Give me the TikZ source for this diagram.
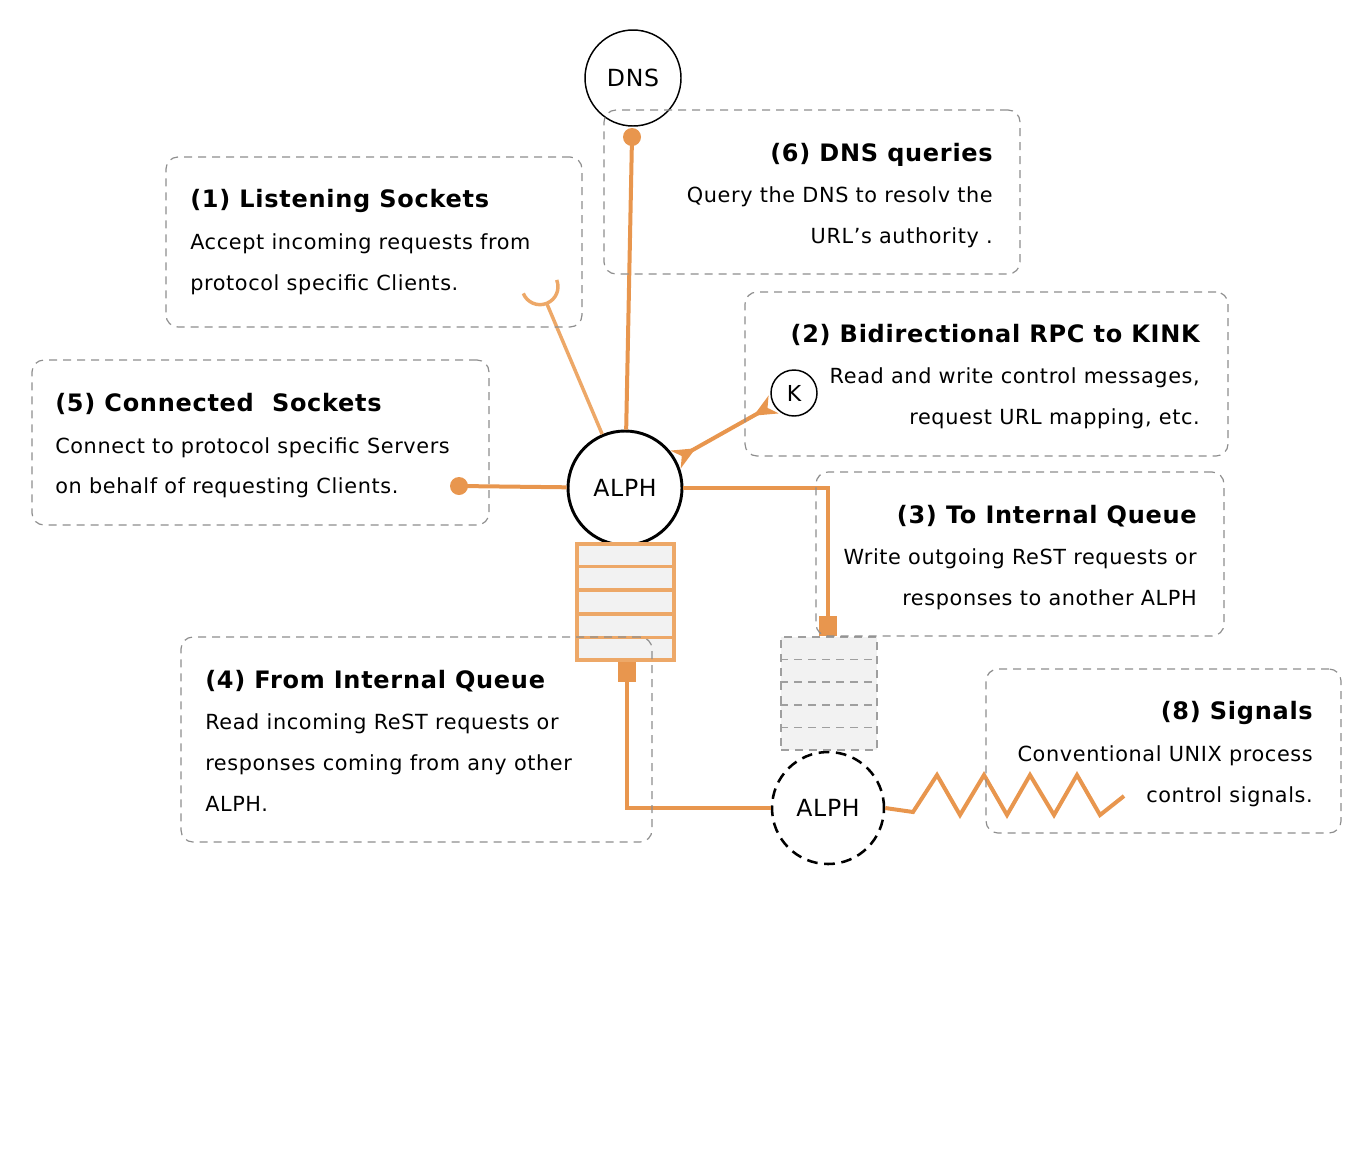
\documentclass[tikz,border=0pt]{standalone}
\usepackage{fontspec}
\setmainfont[LetterSpace=3]{DejaVu Sans}
\usetikzlibrary{arrows.meta,calc}
\definecolor{org}{HTML}{E8964E}
\definecolor{orgl}{HTML}{EDA868}
\definecolor{qfill}{HTML}{F2F2F2}
\definecolor{boxgray}{HTML}{8E8E8E}
\begin{document}
\begin{tikzpicture}[x=0.75pt,y=-0.75pt,
  infobox/.style={draw=boxgray, line width=0.9pt, dash pattern=on 6pt off 4.5pt, rounded corners=9pt, inner sep=0pt, fill=none},
  body/.style={font=\fontsize{15.6pt}{19pt}\selectfont, inner sep=0pt, text=black},
  ttl/.style={font=\fontsize{18pt}{21pt}\selectfont\bfseries, inner sep=0pt, text=black},
  lbl/.style={font=\fontsize{17.7pt}{20pt}\selectfont, text=black},
  conn/.style={draw=org, line width=3pt},
  lconn/.style={draw=orgl, line width=2.6pt},
  tipS/.tip={Stealth[reversed,length=17pt,width=15pt,inset=5pt]},
  sqr/.style={rectangle, fill=org, minimum width=13.5pt, minimum height=15pt, inner sep=0pt}
]
\useasboundingbox (0,0) rectangle (1369,1165);

% circles
\node[circle, draw=black, line width=1.1pt, minimum size=72pt, inner sep=0pt, lbl] (dns) at (633,78) {DNS};
\node[circle, draw=black, line width=2.2pt, minimum size=85.5pt, inner sep=0pt, lbl] (alph) at (625,488) {ALPH};
\node[circle, draw=black, line width=1.1pt, minimum size=34.5pt, inner sep=0pt, lbl, font=\fontsize{16.5pt}{18pt}\selectfont] (k) at (794,393) {K};
\node[circle, draw=black, line width=1.9pt, dash pattern=on 8pt off 5pt, minimum size=84pt, inner sep=0pt, lbl] (alph2) at (828,808) {ALPH};

% queue 1 (orange)
\node[rectangle, fill=qfill, draw=orgl, line width=2.4pt, minimum width=72.75pt, minimum height=87pt, inner sep=0pt] (q1) at (625.5,602) {};
\foreach \i in {1,...,4}
  \draw[orgl, line width=2.4pt] ($(q1.north west)!\i/5!(q1.south west)$) -- ($(q1.north east)!\i/5!(q1.south east)$);
\node[sqr, anchor=north] (sq1) at ($(q1.south)+(1.5,0)$) {};

% queue 2 (dashed gray)
\node[rectangle, fill=qfill, draw=gray!75, line width=0.9pt, dash pattern=on 6pt off 4.5pt, minimum width=72pt, minimum height=84.75pt, inner sep=0pt] (q2) at (829,693.5) {};
\foreach \i in {1,...,4}
  \draw[gray!75, line width=0.9pt, dash pattern=on 6pt off 4.5pt] ($(q2.north west)!\i/5!(q2.south west)$) -- ($(q2.north east)!\i/5!(q2.south east)$);
\node[sqr, anchor=south] (sq2) at ($(q2.north)+(-1,0)$) {};

% connector end points
\coordinate (dnsdot) at (632,137);
\coordinate (c5dot) at (459,486);
\coordinate (cupb) at (546.7,303.3);
\coordinate (sigend) at (1124,796);

% connectors
\draw[conn] (alph) -- (dnsdot);
\fill[org] (dnsdot) circle[radius=9];
\draw[conn] (alph) -- (c5dot);
\fill[org] (c5dot) circle[radius=9];
\draw[lconn] (alph) -- (cupb);
\draw[lconn] (523.3,293.4) arc[start angle=158, end angle=-22, radius=18];
\draw[conn, {tipS}-{tipS}] (alph) -- (k);
\draw[conn] (alph.east) -| (sq2.north);
\draw[conn] (sq1.south) |- (alph2.west);
\draw[conn, line join=miter] (alph2.east) -- (913,812) -- (937,775) -- (960,815) -- (984,775) -- (1007,815) -- (1030,775) -- (1054,815) -- (1077,775) -- (1100,815) -- (sigend);

% boxes
\node[infobox, minimum width=312pt, minimum height=127.5pt] (box1) at (374,242) {};
\node[infobox, minimum width=312pt, minimum height=123pt] (box6) at (812,192) {};
\node[infobox, minimum width=342.75pt, minimum height=123.75pt] (box5) at (260.5,442.5) {};
\node[infobox, minimum width=362.25pt, minimum height=123pt] (box2) at (986.5,374) {};
\node[infobox, minimum width=306pt, minimum height=123pt] (box3) at (1020,554) {};
\node[infobox, minimum width=353.25pt, minimum height=153.75pt] (box4) at (416.5,739.5) {};
\node[infobox, minimum width=266.25pt, minimum height=123pt] (box8) at (1163.5,751) {};

% texts
\node[ttl, anchor=base west] (t1) at (190,207) {(1) Listening Sockets};
\node[body, anchor=base west] (t1a) at (190,249) {Accept incoming requests from};
\node[body, anchor=base west] (t1b) at (190,290) {protocol specific Clients.};

\node[ttl, anchor=base west] (t5) at (55,411) {(5) Connected\ \ Sockets};
\node[body, anchor=base west] (t5a) at (55,453) {Connect to protocol specific Servers};
\node[body, anchor=base west] (t5b) at (55,493) {on behalf of requesting Clients.};

\node[ttl, anchor=base east] (t6) at (993,161) {(6) DNS queries};
\node[body, anchor=base east] (t6a) at (993,202) {Query the DNS to resolv the};
\node[body, anchor=base east] (t6b) at (993,243) {URL\symbol{39}s authority .};

\node[ttl, anchor=base east] (t2) at (1200,342) {(2) Bidirectional RPC to KINK};
\node[body, anchor=base east] (t2a) at (1200,383) {Read and write control messages,};
\node[body, anchor=base east] (t2b) at (1200,424) {request URL mapping, etc.};

\node[ttl, anchor=base east] (t3) at (1197,523) {(3) To Internal Queue};
\node[body, anchor=base east] (t3a) at (1197,564) {Write outgoing ReST requests or};
\node[body, anchor=base east] (t3b) at (1197,605) {responses to another ALPH};

\node[ttl, anchor=base west] (t4) at (205,688) {(4) From Internal Queue};
\node[body, anchor=base west] (t4a) at (205,729) {Read incoming ReST requests or};
\node[body, anchor=base west] (t4b) at (205,770) {responses coming from any other};
\node[body, anchor=base west] (t4c) at (205,811) {ALPH.};

\node[ttl, anchor=base east] (t8) at (1313,719) {(8) Signals};
\node[body, anchor=base east] (t8a) at (1313,761) {Conventional UNIX process};
\node[body, anchor=base east] (t8b) at (1313,802) {control signals.};
\end{tikzpicture}
\end{document}
